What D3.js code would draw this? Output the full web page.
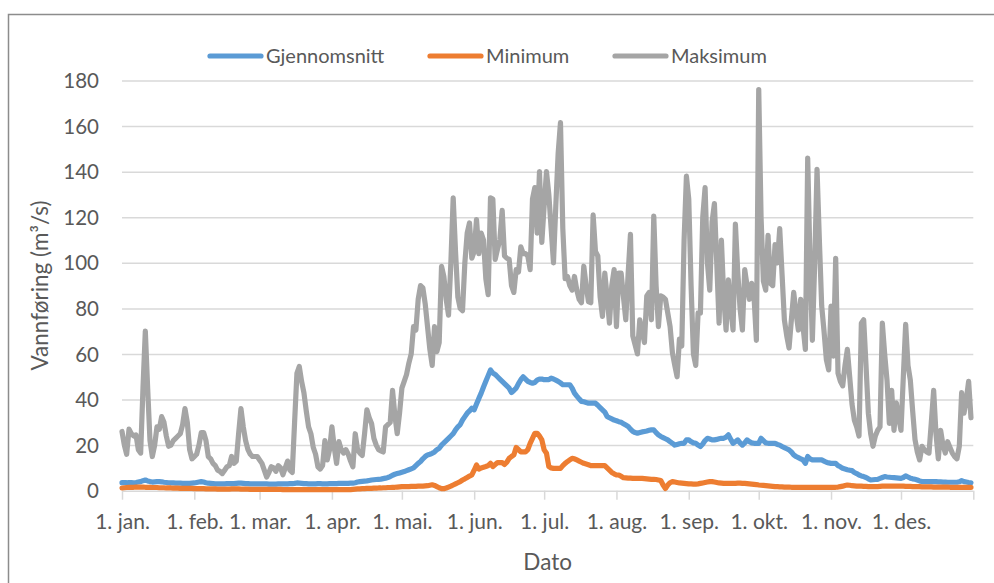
<!DOCTYPE html>
<html><head><meta charset="utf-8">
<script src="https://cdn.jsdelivr.net/npm/d3@7"></script>
<style>
body{margin:0;background:#fff;}
text{font-family:Lato,"Open Sans",sans-serif;fill:#595959;}
</style>
</head><body>
<svg id="chart" width="994" height="583"></svg>
<script>
// ---- data ----
const monthLabels = ["1. jan.","1. feb.","1. mar.","1. apr.","1. mai.","1. jun.","1. jul.","1. aug.","1. sep.","1. okt.","1. nov.","1. des."];
const monthStartDays = [0,31,59,90,120,151,181,212,243,273,304,334];
const yTicks = [0,20,40,60,80,100,120,140,160,180];
const seriesNames = ["Gjennomsnitt","Minimum","Maksimum"];
const seriesColors = ["#5B9BD5","#ED7D31","#A5A5A5"];

// daily values, 1. jan. .. 31. des.
const gjennomsnitt = [
 3.5,3.5,3.5,3.6,3.6,3.5,3.6,3.8,4.0,4.4,4.7,4.3,4.0,3.8,3.9,4.0,4.0,3.9,3.7,3.6,3.5,3.4,3.4,3.3,3.3,3.3,3.2,3.2,3.2,3.2,3.3,
 3.4,3.6,3.8,4.0,3.8,3.5,3.3,3.2,3.1,3.0,3.0,3.0,3.0,3.0,3.1,3.1,3.1,3.1,3.2,3.3,3.3,3.2,3.1,3.1,3.0,3.0,3.0,3.0,
 3.0,3.0,3.0,3.0,2.9,2.9,2.9,2.9,3.0,3.0,3.0,3.0,3.0,3.1,3.1,3.2,3.4,3.3,3.2,3.1,3.1,3.0,3.0,3.0,3.0,3.1,3.1,3.0,3.0,3.0,3.1,
 3.1,3.1,3.1,3.2,3.2,3.2,3.2,3.2,3.3,3.3,3.5,3.8,4.0,4.1,4.2,4.3,4.5,4.7,4.8,4.9,5.0,5.1,5.3,5.5,5.8,6.2,6.8,7.2,7.5,7.8,
 8.1,8.4,8.8,9.2,9.6,10,11,12,12.8,14,15,15.7,16,16.4,17,18,18.6,20,21,22,23,24,25,26.7,28,29,31,32.5,34,35,36.2,
 35.5,38,40.5,42.8,45.5,48,50.5,53,51.6,51,50,49,48,47,46,45,43.1,44,45,47,48.7,50,49,48,47.5,47.2,47.5,48.5,49,49,
 48.7,48.7,48.7,49.4,49,48.5,48,47.3,46.5,46.5,46.5,46.5,45,42.8,41.5,40.3,39.2,39,38.7,38.4,38.4,38.4,38.4,37.5,36.5,35.5,34.5,32.6,32,31.5,31,
 30.7,30.3,30,29.4,28.8,28.2,27,26,25.5,25.2,25.5,25.8,26,26.2,26.5,26.7,26.7,25.5,24.5,23.8,23.3,22.8,22.3,21.5,20.8,20,20.3,20.6,20.8,20.8,22.3,
 22.3,21.5,21,20.8,20,19.4,20.5,22,23,22.7,22.3,22.3,22.5,22.8,23,23,23.5,24.5,22.5,20.8,21.5,22.3,21,20,21,22.3,21.5,21,20.8,20.8,
 20.8,23,22,21,20.8,20.8,20.8,20.8,20.3,20,19.4,18.9,18.4,17.9,17,15.7,15,14.5,14,13.5,12,15,14,13.5,13.5,13.5,13.5,13.5,13,12.5,12.2,
 12,12,12,11,10.5,9.8,9.5,9.2,9,8.8,8,7.5,6.9,6.5,6.2,5.8,5.2,4.7,4.8,4.9,5,5.4,5.8,6.2,6,5.9,5.8,5.7,5.6,5.5,
 5.4,5.8,6.5,6,5.5,5.2,5,4.7,4.3,4,4,4,4,4,4,4,3.9,3.9,3.8,3.8,3.7,3.7,3.7,3.7,3.7,3.9,4.4,4,3.8,3.6,3.5
];
const minimum = [
 1.2,1.3,1.4,1.5,1.5,1.5,1.6,1.6,1.6,1.6,1.5,1.5,1.5,1.4,1.4,1.4,1.3,1.3,1.3,1.2,1.2,1.2,1.1,1.1,1.1,1.0,1.0,1.0,1.0,1.0,1.0,
 0.9,0.9,0.9,0.9,0.9,0.8,0.8,0.8,0.8,0.8,0.7,0.7,0.7,0.7,0.7,0.7,0.8,0.8,0.8,0.8,0.7,0.7,0.7,0.7,0.6,0.6,0.6,0.6,
 0.6,0.6,0.6,0.6,0.6,0.6,0.6,0.6,0.6,0.6,0.5,0.5,0.5,0.5,0.5,0.5,0.5,0.5,0.5,0.5,0.5,0.5,0.5,0.5,0.5,0.5,0.5,0.5,0.5,0.5,0.5,
 0.5,0.5,0.5,0.5,0.5,0.5,0.5,0.5,0.5,0.6,0.7,0.8,0.8,0.9,0.9,1.0,1.0,1.0,1.1,1.1,1.2,1.2,1.3,1.3,1.4,1.4,1.5,1.5,1.6,1.7,
 1.8,1.8,1.8,1.8,1.9,1.9,1.9,2.0,2.0,2.0,2.1,2.2,2.4,2.6,2.3,1.8,1.3,0.9,0.9,1.2,1.6,2.0,2.5,3.0,3.5,4.0,4.7,5.2,5.8,6.4,6.9,
 9,11.3,9.5,10,10.3,10.6,11,12,10.6,11.5,12.3,12.3,12.3,11.5,12.5,14.2,15,15.7,19,18,17,17,17,18,20.8,23,25.2,25.2,24,22.3,
 17.9,16.4,10.6,10,9.8,9.8,9.8,9.8,11,12,12.8,13.5,14.2,14,13.5,13,12.5,12,11.7,11.4,11,11,11,11,11,11,11,10,9,8,7.4,
 6.9,6.9,6.3,5.7,5.6,5.5,5.5,5.4,5.4,5.4,5.4,5.4,5.3,5.2,5.1,5.0,5.0,4.9,4.7,4.5,2.5,1.0,2.5,3.5,4.0,3.8,3.6,3.4,3.3,3.2,3.1,
 3.0,3.0,2.9,2.9,3.0,3.2,3.4,3.6,3.8,4.0,4.0,3.8,3.6,3.4,3.3,3.2,3.2,3.2,3.2,3.2,3.2,3.3,3.3,3.2,3.2,3.1,3.0,2.9,2.8,2.7,
 2.5,2.4,2.3,2.2,2.1,2.0,1.9,1.8,1.8,1.7,1.7,1.6,1.6,1.6,1.5,1.5,1.5,1.5,1.5,1.5,1.5,1.5,1.5,1.5,1.5,1.5,1.5,1.5,1.5,1.5,1.5,
 1.5,1.5,1.5,1.6,1.8,2.0,2.3,2.5,2.4,2.2,2.1,2.0,2.0,2.0,1.9,1.9,1.8,1.8,1.8,1.8,1.8,1.9,2.0,2.0,2.0,2.0,2.0,2.0,2.0,2.0,
 2.0,2.0,1.9,1.9,1.9,1.8,1.8,1.8,1.8,1.7,1.7,1.7,1.7,1.7,1.6,1.6,1.6,1.6,1.6,1.6,1.6,1.5,1.5,1.5,1.5,1.5,1.5,1.5,1.5,1.5,1.5
];
const maksimum = [
 26,20,16,27,25,24,24.5,18,16.5,45,70,45,22,15,20,28,27,32.5,30,24,19.5,20,22,23,24,25,29,36,30,18,14,
 15,16,20,25.5,25.5,22,15,14,12,11,9,8.5,7.5,9,10.5,11,15,12,13,25,36,28,22,18,16,15,15,15,
 13.5,12,9,6,8,10.5,10,8.5,11,10,7,10,13,9,8,30,51.5,54.5,48,43,35,28,25,19,16,10.5,9.5,11,22,13.5,18,
 28,19,12,21.5,18,16.5,18,16,13,10.5,25,18,16.5,15.5,25,35.5,32,29.5,23,20,18,17.5,17,28,29,30,44,33,25,34,
 45,48,51,56,60,72,70.5,84,90,89,82,72,62,55,72,61,65,98.5,94,84,77,100,128.5,105,85,80,79,100,113,117.5,102,
 105,119,104,113,110,93,86,128.5,128,101.5,106,110,123,103,102,101.5,90,87,97,96,107,104,104,103,97,128,133,113,140,109,
 125,140,130,115,100,125,148,161.5,115,93,94,90,88,94,88,84,82.5,98.5,90,83,82.5,121,105,103,85,76.5,95.5,85,73.5,90,97,
 72,95.5,95.5,85,75,95,112.5,68,64,60,75,70,65,85.5,87,75,120.5,90,72,85.5,85,84,78,72,60.5,55,50,66.5,63.5,110,138,
 128,90,60,55,78,78,120,133,100,88,118,126,100,73.5,110,85,70.5,92.5,80,70.5,117,96,80,70.5,97,90,84,91,85,66,
 176,120,92,88,112,91,90,108,100,115,95,75,68,62.6,75,87,78,70.5,84,72,62,146,100,66,100,141,110,81,70,57.5,53,
 81,59,102,51.5,48,46,55,62,50,38,31,28,24,73.5,75,55,34,25,19.5,24,26.5,28,73.5,60,48.5,29.5,44,26.5,38.5,32,
 26.5,50,73,55,48.5,35,22.5,17,13.5,19.5,18,17,16.5,30,44,25,14,26.5,20,16.5,21.5,19,16.5,15,14,19.5,43,34,40,48,32
];
const seriesValues = [gjennomsnitt, minimum, maksimum];

// ---- layout ----
const svg = d3.select("#chart");
const x = d3.scaleLinear().domain([0,365]).range([122,973.3]);
const y = d3.scaleLinear().domain([0,180]).range([490.7,80.5]);
const grid = "#d9d9d9";
const lw = 5.2;

// outer frame
svg.append("path").attr("d","M8.5,600 L8.5,14.5 L1000,14.5")
  .attr("fill","none").attr("stroke","#8c8c8c").attr("stroke-width",1.5);

// horizontal gridlines + y labels
const yAxis = d3.axisLeft(y).tickValues(yTicks).tickSize(-(973.3-122)).tickPadding(23);
const gy = svg.append("g").attr("transform","translate(122,0)").call(yAxis);
gy.select(".domain").remove();
gy.selectAll(".tick line").attr("stroke",grid).attr("stroke-width",1.5);
gy.selectAll(".tick text").attr("font-size",20.5).attr("fill","#595959")
  .attr("font-family","Lato,'Open Sans',sans-serif").attr("dy","0.35em");

// x axis ticks and labels
const xAxis = d3.axisBottom(x).tickValues(monthStartDays.concat([365])).tickSize(9).tickPadding(14)
  .tickFormat((d,i)=> i<monthLabels.length ? monthLabels[i] : "");
const gx = svg.append("g").attr("transform","translate(0,"+y(0)+")").call(xAxis);
gx.select(".domain").remove();
gx.selectAll(".tick line").attr("stroke",grid).attr("stroke-width",1.5);
gx.selectAll(".tick text").attr("font-size",21).attr("fill","#595959")
  .attr("font-family","Lato,'Open Sans',sans-serif");

// lines
const line = d3.line().x((d,i)=>x(i)).y(d=>y(d));
seriesValues.forEach((vals,k)=>{
  svg.append("path").datum(vals).attr("d",line)
    .attr("fill","none").attr("stroke",seriesColors[k]).attr("stroke-width",lw)
    .attr("stroke-linejoin","round").attr("stroke-linecap","round");
});

// legend
const legendX = [208,428,613];
seriesNames.forEach((name,k)=>{
  const g = svg.append("g").attr("transform","translate("+legendX[k]+",56)");
  g.append("line").attr("x1",2).attr("x2",53).attr("y1",0).attr("y2",0)
    .attr("stroke",seriesColors[k]).attr("stroke-width",lw).attr("stroke-linecap","round");
  g.append("text").attr("x",58).attr("y",7).attr("font-size",20).text(name);
});

// axis titles
svg.append("text").attr("x",(122+973.3)/2).attr("y",570).attr("text-anchor","middle")
  .attr("font-size",22.5).text("Dato");
svg.append("text").attr("transform","translate(48,285.5) rotate(-90)").attr("text-anchor","middle")
  .attr("font-size",22.5).text("Vannføring (m³/s)");
</script>
</body></html>
